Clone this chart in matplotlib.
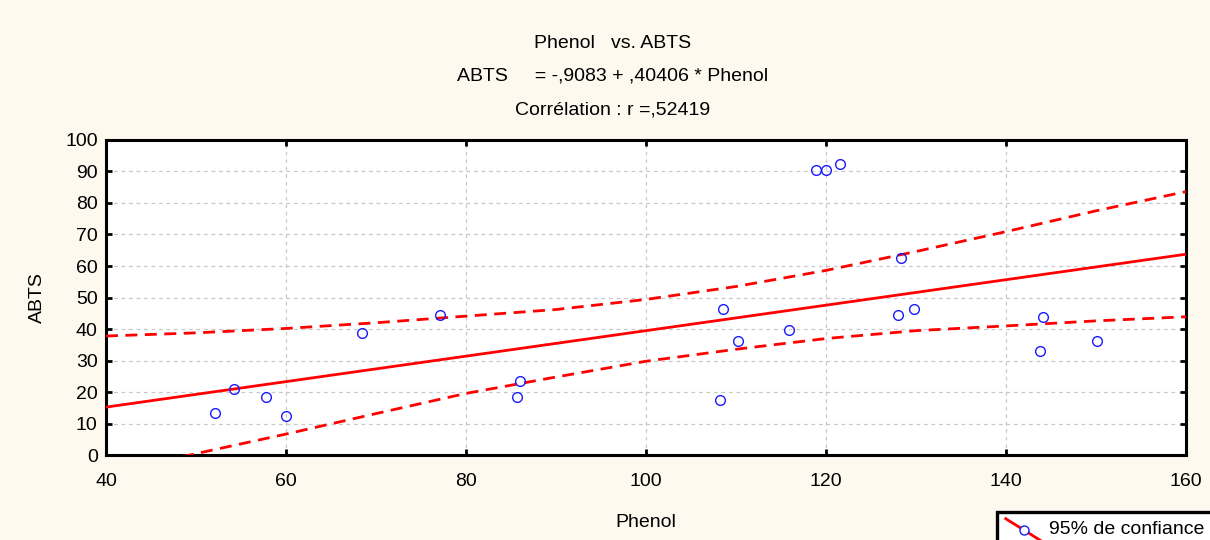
import matplotlib
matplotlib.use("Agg")
import matplotlib.pyplot as plt
import numpy as np
from matplotlib.legend_handler import HandlerBase
from matplotlib.lines import Line2D

plt.rcParams['font.family'] = ['Liberation Sans', 'DejaVu Sans']

# Data
phenol = [52.1, 54.2, 57.8, 60.0, 68.4, 77.1, 86.0, 85.7, 108.6, 108.2, 110.2,
          115.9, 118.9, 120.0, 121.6, 128.0, 128.3, 129.8, 144.1, 143.8, 150.1]
abts = [13.3, 21.0, 18.4, 12.4, 38.7, 44.4, 23.5, 18.4, 46.3, 17.5, 36.2,
        39.7, 90.5, 90.5, 92.4, 44.4, 62.5, 46.3, 43.8, 33.0, 36.2]

# Regression coefficients (from the title)
intercept = -0.9083
slope = 0.40406

# 95% confidence band
band_x = [40, 50, 60, 70, 80, 90, 100, 110, 120, 130, 140, 150, 160]
band_upper = [37.8, 38.8, 40.2, 42.0, 44.1, 46.2, 49.4, 53.5, 58.6, 64.6, 70.9, 77.5, 83.6]
band_lower = [-5.8, 0.5, 6.7, 13.2, 19.6, 24.8, 29.8, 33.6, 37.0, 39.5, 41.0, 42.6, 43.9]

x_ticks = [40, 60, 80, 100, 120, 140, 160]
y_ticks = list(range(0, 101, 10))

bg = '#fdf9ef'
red = '#ff0000'
blue = '#1a1aff'
fs = 14


class HandlerDiag(HandlerBase):
    # diagonal red line with a circle in the middle, like the original legend
    def create_artists(self, legend, orig_handle, xdescent, ydescent,
                       width, height, fontsize, trans):
        x0, x1 = -xdescent, -xdescent + width
        y0, y1 = -ydescent + height * 1.15, -ydescent - height * 0.55
        line = Line2D([x0, x1], [y0, y1], color=red, lw=2.0, transform=trans)
        mk = Line2D([(x0 + x1) / 2], [(y0 + y1) / 2], marker='o', ls='none',
                    mfc='white', mec=blue, ms=6.5, mew=1.0, transform=trans)
        return [line, mk]


fig = plt.figure(figsize=(12.1, 5.4), dpi=100, facecolor=bg)
ax = fig.add_axes([0.0876, 0.157, 0.8926, 0.584])
ax.set_facecolor('white')

xs = np.array([40, 160])
ax.plot(xs, intercept + slope * xs, color=red, lw=2.0, zorder=3)
ax.plot(band_x, band_upper, color=red, lw=2.0, ls=(0, (4.3, 2.7)), zorder=3)
ax.plot(band_x, band_lower, color=red, lw=2.0, ls=(0, (4.3, 2.7)), zorder=3)
ax.plot(phenol, abts, 'o', mfc='none', mec=blue, ms=7, mew=1.0, zorder=4)

ax.set_xlim(40, 160)
ax.set_ylim(0, 100)
ax.set_xticks(x_ticks)
ax.set_yticks(y_ticks)
ax.tick_params(direction='in', length=4, width=2, labelsize=fs,
               top=True, right=True)
ax.tick_params(axis='x', pad=13)
ax.tick_params(axis='y', pad=6)
ax.grid(True, color='#c8c8c8', ls=(0, (3, 3)), lw=0.9)
for s in ax.spines.values():
    s.set_linewidth(2.2)
    s.set_color('black')

ax.set_xlabel('Phenol', fontsize=fs, labelpad=17)
ax.set_ylabel('ABTS', fontsize=fs, labelpad=14)

fig.text(0.506, 0.920, 'Phenol   vs. ABTS', ha='center', va='center', fontsize=fs)
fig.text(0.506, 0.859, 'ABTS     = -,9083 + ,40406 * Phenol', ha='center', va='center', fontsize=fs)
fig.text(0.506, 0.796, 'Corrélation : r =,52419', ha='center', va='center', fontsize=fs)

leg = fig.legend([object()], ['95% de confiance'], handler_map={object: HandlerDiag()},
                 loc='upper left', bbox_to_anchor=(997 / 1210, 1 - 512 / 540), fontsize=fs,
                 frameon=True, fancybox=False, borderpad=0.45, handlelength=1.9,
                 handletextpad=0.3, borderaxespad=0)
leg.get_frame().set_edgecolor('black')
leg.get_frame().set_linewidth(2.4)
leg.get_frame().set_facecolor('white')
leg.get_frame().set_alpha(1)

fig.savefig('out.png', dpi=100, facecolor=bg)
